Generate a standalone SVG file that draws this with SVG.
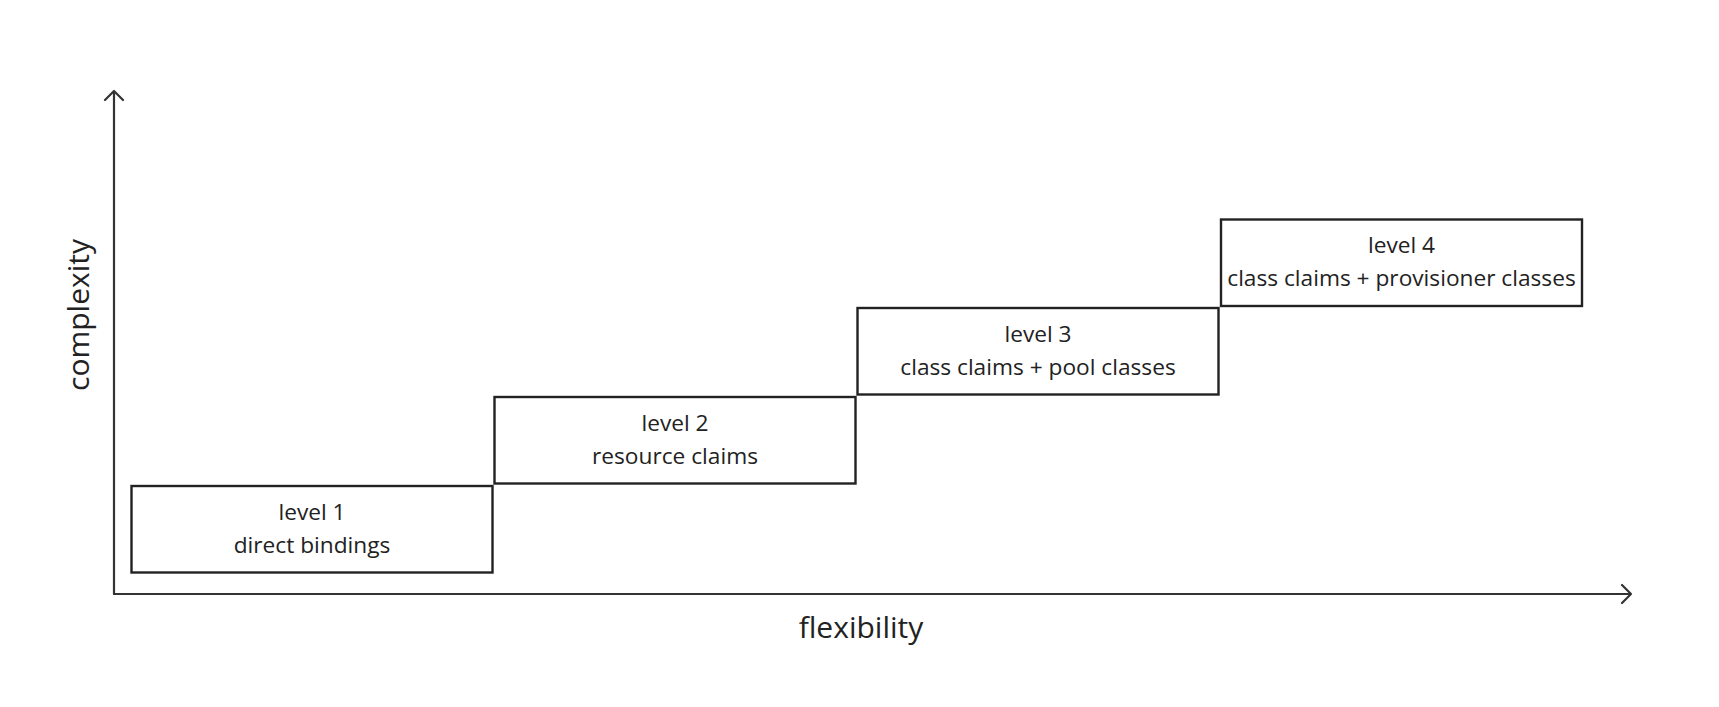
<svg xmlns="http://www.w3.org/2000/svg" width="1719" height="707" viewBox="0 0 1719 707">
<style>
.box{fill:#fff;stroke:#222;stroke-width:2.4}
.axis{fill:none;stroke:#333;stroke-width:2.2;stroke-linecap:round;stroke-linejoin:round}
.t{font-family:"Open Sans","Noto Sans",sans-serif;font-size:22.7px;fill:#222;text-anchor:middle}
.lab{font-family:"Open Sans","Noto Sans",sans-serif;font-size:30px;fill:#222;text-anchor:middle}
</style>
<rect width="1719" height="707" fill="#fff"/>
<g id="connectors">
<path class="axis" d="M114,594 V91 M105,100 L114,91 L123,100"/>
<path class="axis" d="M114,594 H1631 M1622,585 L1631,594 L1622,603"/>
</g>
<g id="level1">
<rect class="box" x="131.5" y="486" width="361" height="86.5"/>
<text class="t" x="312" y="520">level 1</text>
<text class="t" x="312" y="552.5">direct bindings</text>
</g>
<g id="level2">
<rect class="box" x="494.5" y="397" width="361" height="86.5"/>
<text class="t" x="675" y="431">level 2</text>
<text class="t" x="675" y="463.5">resource claims</text>
</g>
<g id="level3">
<rect class="box" x="857.5" y="308" width="361" height="86.5"/>
<text class="t" x="1038" y="342">level 3</text>
<text class="t" x="1038" y="374.5">class claims + pool classes</text>
</g>
<g id="level4">
<rect class="box" x="1221" y="219.5" width="361" height="86.5"/>
<text class="t" x="1401.5" y="253">level 4</text>
<text class="t" x="1401.5" y="285.5">class claims + provisioner classes</text>
</g>
<text class="lab" transform="translate(89,315) rotate(-90)">complexity</text>
<text class="lab" x="861" y="638">flexibility</text>
</svg>
